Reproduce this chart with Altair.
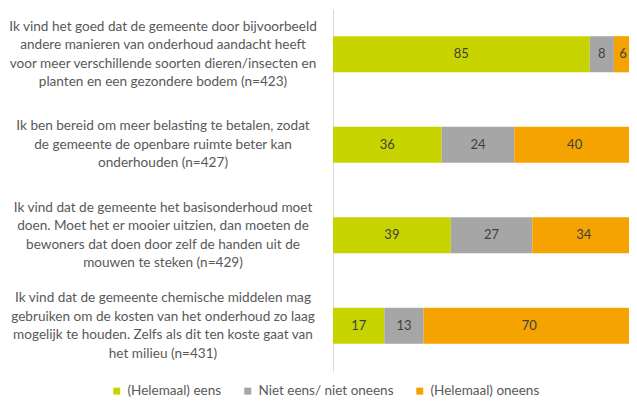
import altair as alt
import pandas as pd

questions = [
    "Ik vind het goed dat de gemeente door bijvoorbeeld\nandere manieren van onderhoud aandacht heeft\nvoor meer verschillende soorten dieren/insecten en\nplanten en een gezondere bodem (n=423)",
    "Ik ben bereid om meer belasting te betalen, zodat\nde gemeente de openbare ruimte beter kan\nonderhouden (n=427)",
    "Ik vind dat de gemeente het basisonderhoud moet\ndoen. Moet het er mooier uitzien, dan moeten de\nbewoners dat doen door zelf de handen uit de\nmouwen te steken (n=429)",
    "Ik vind dat de gemeente chemische middelen mag\ngebruiken om de kosten van het onderhoud zo laag\nmogelijk te houden. Zelfs als dit ten koste gaat van\nhet milieu (n=431)",
]
keys = ["q1", "q2", "q3", "q4"]
categories = ["(Helemaal) eens", "Niet eens/ niet oneens", "(Helemaal) oneens"]
colors = ["#C8D400", "#A6A6A6", "#F5A300"]
eens = [85, 36, 39, 17]
neutraal = [8, 24, 27, 13]
oneens = [6, 40, 34, 70]

LH = 18.5
H = 362
BANDW = H / 4 * 0.4
rows = []
for i, k in enumerate(keys):
    for j, (cat, vals) in enumerate(zip(categories, [eens, neutraal, oneens])):
        rows.append({"key": k, "cat": cat, "order": j, "value": vals[i]})
df = pd.DataFrame(rows)
lab = pd.DataFrame({"key": keys, "label": questions})

FONT = "Lato"
yenc = alt.Y("key:N", sort=keys, axis=alt.Axis(labels=False, ticks=False, title=None,
                                              domainColor="#D9D9D9", domainWidth=1),
             scale=alt.Scale(paddingInner=0.6, paddingOuter=0.3))

base = alt.Chart(df).transform_stack(
    stack="value", groupby=["key"], as_=["x0", "x1"], sort=[alt.SortField("order")]
).transform_calculate(mid="(datum.x0 + datum.x1) / 2")

xscale = alt.Scale(domain=[0, 98], nice=False, zero=True)

bars = base.mark_bar(clip=True).encode(
    x=alt.X("x0:Q", scale=xscale, axis=None),
    x2="x1:Q",
    y=yenc,
    color=alt.Color("cat:N", scale=alt.Scale(domain=categories, range=colors),
                    legend=alt.Legend(title=None, orient="none", direction="horizontal",
                                      legendX=-223, legendY=375, symbolType="square",
                                      symbolSize=49, symbolStrokeWidth=0,
                                      labelFont=FONT, labelFontSize=13.5,
                                      labelColor="#595959", columnPadding=19,
                                      labelOffset=4)),
)

vals = base.mark_text(font=FONT, fontSize=13, color="#404040").encode(
    x=alt.X("mid:Q", scale=xscale),
    y=alt.Y("key:N", sort=keys),
    text="value:Q",
)

labels = alt.Chart(lab).transform_calculate(
    off=f"{BANDW / 2} - (split(datum.label, '\\n').length - 1) * {LH} / 2"
).mark_text(font=FONT, fontSize=13.6, color="#595959",
            align="center", baseline="middle",
            lineBreak="\n", lineHeight=LH).encode(
    x=alt.value(-170),
    y=alt.Y("key:N", sort=keys),
    yOffset=alt.YOffset("off:Q", scale=None),
    text="label:N",
)

chart = alt.layer(bars, vals, labels).properties(
    width=296, height=H,
    autosize=alt.AutoSizeParams(type="none"),
    padding={"left": 325, "top": 1, "right": 0, "bottom": 26},
).configure_view(stroke=None)

chart.save("out.html", embed_options={"renderer": "svg", "actions": False})
